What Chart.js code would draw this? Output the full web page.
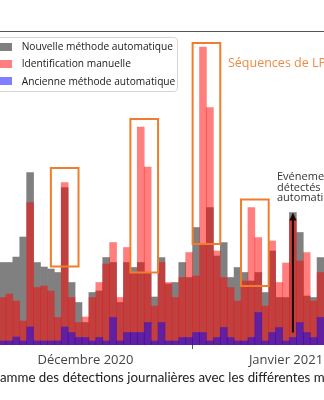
<!DOCTYPE html>
<html lang="fr">
<head>
<meta charset="utf-8">
<script src="https://cdn.jsdelivr.net/npm/chart.js@4.4.1/dist/chart.umd.min.js"></script>
<style>
  html, body { margin: 0; padding: 0; background: #fff; overflow: hidden; }
  body { width: 324px; height: 400px; position: relative; font-family: 'Open Sans', sans-serif; }
  #wrap { position: absolute; left: -1px; top: 0; width: 325px; height: 400px; }
  .frame-top { position: absolute; left: 0; top: 31px; width: 324px; height: 1px; background: #555; }
  #legend { position: absolute; left: -7px; top: 37px; width: 185px; height: 55px; box-sizing: border-box;
            border: 1px solid #d6d6d6; border-radius: 4px; background: rgba(255,255,255,0.85); padding-left: 6px; }
  #legend div { height: 17.3px; line-height: 17.3px; font-size: 10.2px; color: #1a1a1a; white-space: nowrap; }
  #legend span { display: inline-block; width: 12px; height: 8px; margin-right: 9.7px; vertical-align: -0.5px; }
  .seq-title { position: absolute; left: 228px; top: 54px; line-height: 18px; font-size: 12.5px; color: #ee8a45; white-space: nowrap; }
  .note { position: absolute; left: 277px; top: 171px; line-height: 10.5px; font-size: 11px; color: #333; white-space: nowrap; }
  #caption { position: absolute; top: 368px; line-height: 18px; font-size: 13.3px; font-family: Lato, sans-serif; color: #222; white-space: nowrap; }
</style>
</head>
<body>
<div id="wrap"><canvas id="chart"></canvas></div>
<div class="frame-top"></div>
<div id="legend"></div>
<div class="seq-title">Séquences de LP</div>
<div class="note">Evénements<br>détectés<br>automatiquement</div>
<div id="caption">Histogramme des détections journalières avec les différentes méthodes</div>
<script>
// one bar per day, 4 Dec 2020 -> 19 Jan 2021
const days = ['04/12','05/12','06/12','07/12','08/12','09/12','10/12','11/12','12/12','13/12',
  '14/12','15/12','16/12','17/12','18/12','19/12','20/12','21/12','22/12','23/12','24/12','25/12',
  '26/12','27/12','28/12','29/12','30/12','31/12','01/01','02/01','03/01','04/01','05/01','06/01',
  '07/01','08/01','09/01','10/01','11/01','12/01','13/01','14/01','15/01','16/01','17/01','18/01','19/01'];

const nouvelle = [16.5,16.5,17.6,21.6,34.5,16.5,15.6,15.2,14.5,31.5,12.5,8.5,4.5,10.5,10.8,17.5,
  16.5,8.5,16.5,15.5,16.5,14.5,9.6,17.5,12.2,12.5,16.5,13.5,23.5,20,27.5,17.8,20.5,13.5,15.5,14.5,
  12.8,14.5,10.5,18.8,9.5,9.5,26.5,22.5,9.8,9.5,17.5];
const manuelle = [9.5,10.2,8.8,4.8,28.5,11.5,11.8,10.8,5.5,32.5,9.5,4.5,5.6,9.5,12.5,16.2,
  20.5,9.5,19.5,14.4,43.6,35.6,7.8,16.5,12.5,9.5,13.5,18.5,13.8,59.6,47.5,18.8,13.5,11.5,8.8,12.8,
  27.5,21.5,7.8,20.8,12.5,16.4,25.2,16.8,18.5,8.8,14.5];
const ancienne = [0.8,0.8,1.6,0.8,3.6,0.8,0.8,0.8,0.8,3.6,2.5,1.5,1.5,0.8,1.5,0.8,
  5.5,0.8,2.5,2.5,2.5,4.5,0.8,4.5,0.8,0.8,1.5,1.5,2.5,2.5,0.8,1.5,3.5,1.5,0.8,0.8,
  1.5,6.5,0.8,2.5,3.5,0.8,1.5,4.5,2.5,1.5,5.5];

// month labels on the time axis
const monthLabels = ['Décembre 2020', 'Janvier 2021'];
const monthLabelDays = ['16/12', '14/01'];
const monthStartDay = '01/01';

// highlighted sequences (first day, last day, box bottom, box top)
const seqStart = [9, 20, 29, 36];
const seqEnd = [9, 21, 30, 37];
const seqBottom = [15.7, 14.5, 20.2, 11.8];
const seqTop = [35.4, 45.2, 60.4, 29.1];

// arrow to the event only seen by the automatic method
const arrowDay = 42;
const arrowFrom = 2.5;

const annotations = {
  id: 'annotations',
  afterDatasetsDraw(chart) {
    const { ctx, scales: { x, y } } = chart;
    const w = x.getPixelForValue(1) - x.getPixelForValue(0);
    ctx.save();
    ctx.strokeStyle = '#f07d2c';
    ctx.lineWidth = 2;
    seqStart.forEach((s, k) => {
      const cx = (x.getPixelForValue(s) + x.getPixelForValue(seqEnd[k])) / 2;
      const top = y.getPixelForValue(seqTop[k]);
      const bottom = y.getPixelForValue(seqBottom[k]);
      ctx.strokeRect(cx - 2 * w, top, 4 * w, bottom - top);
    });

    const ax = x.getPixelForValue(arrowDay);
    const y0 = y.getPixelForValue(arrowFrom);
    const y1 = y.getPixelForValue(nouvelle[arrowDay]);
    ctx.strokeStyle = '#1a0404';
    ctx.fillStyle = '#1a0404';
    ctx.lineWidth = 2;
    ctx.beginPath();
    ctx.moveTo(ax, y0);
    ctx.lineTo(ax, y1 + 6);
    ctx.stroke();
    ctx.beginPath();
    ctx.moveTo(ax, y1);
    ctx.lineTo(ax - 3.5, y1 + 8);
    ctx.lineTo(ax + 3.5, y1 + 8);
    ctx.closePath();
    ctx.fill();
    ctx.restore();
  }
};

const chart = new Chart(document.getElementById('chart'), {
  type: 'bar',
  data: {
    labels: days,
    datasets: [
      { label: 'Nouvelle méthode automatique', data: nouvelle, backgroundColor: 'rgb(128,128,128)', order: 3 },
      { label: 'Identification manuelle', data: manuelle, backgroundColor: 'rgba(255,0,0,0.5)', order: 2 },
      { label: 'Ancienne méthode automatique', data: ancienne, backgroundColor: 'rgba(0,0,255,0.5)', order: 1 }
    ]
  },
  options: {
    responsive: true,
    maintainAspectRatio: false,
    animation: false,
    layout: { padding: { top: 24, left: 0, right: 0, bottom: 0 } },
    datasets: { bar: { barPercentage: 1, categoryPercentage: 1, borderWidth: 0 } },
    plugins: { legend: { display: false }, tooltip: { enabled: false } },
    scales: {
      x: {
        stacked: true,
        afterFit: (scale) => { scale.height = 55; },
        border: { display: false },
        grid: {
          offset: true,
          drawOnChartArea: false,
          tickLength: 4,
          tickColor: (c) => days[c.index] === monthStartDay ? '#555' : 'rgba(0,0,0,0)'
        },
        ticks: {
          autoSkip: false,
          maxRotation: 0,
          minRotation: 0,
          padding: 3,
          color: '#444',
          font: { family: 'Open Sans', size: 13 },
          callback: (value, index) => {
            const m = monthLabelDays.indexOf(days[index]);
            return m >= 0 ? monthLabels[m] : '';
          }
        }
      },
      y: { display: false, stacked: false, min: 0, max: 64.2 }
    }
  },
  plugins: [annotations]
});

// legend built from the datasets
const legend = document.getElementById('legend');
chart.data.datasets.forEach((ds) => {
  const row = document.createElement('div');
  const sw = document.createElement('span');
  sw.style.background = ds.backgroundColor;
  row.appendChild(sw);
  row.appendChild(document.createTextNode(ds.label));
  legend.appendChild(row);
});

// caption is cropped on the left in the reference
const cap = document.getElementById('caption');
const mctx = document.createElement('canvas').getContext('2d');
mctx.font = '13.3px Lato';
cap.style.left = (-mctx.measureText('Histogr').width) + 'px';
</script>
</body>
</html>
